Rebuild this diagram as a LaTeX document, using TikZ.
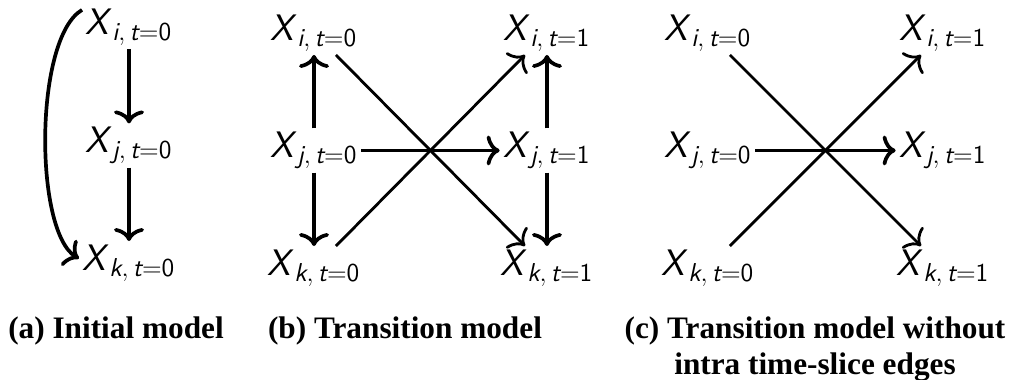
\documentclass[tikz,border=0pt]{standalone}
\usepackage{fix-cm}
\usepackage{amsmath}
\usepackage{fontspec}
\setmainfont{Liberation Serif}
\usetikzlibrary{arrows.meta,positioning}

\newcommand{\xvar}[2]{\textsl{X}$_{\textsl{#1},\,\textsl{t}=\textup{#2}}$}

\begin{document}
\begin{tikzpicture}[x=0.02cm, y=0.02cm, on grid,
      rvar/.style={font=\fontsize{21}{25}\selectfont\sffamily, inner sep=2pt},
      dep/.style={-{To[length=2.6mm,width=6mm]}, line width=2.1pt},
      cross/.style={-{To[length=2.6mm,width=6mm]}, line width=1.6pt},
      subcap/.style={font=\fontsize{17.8}{20.5}\selectfont\bfseries, inner sep=0pt, align=center},
    ]
    \useasboundingbox (0,0) rectangle (1015,-379);

    % (a) initial model
    \node[rvar] (ai) at (129,-27) {\xvar{i}{0}};
    \node[rvar, below=2.37cm of ai] (aj) {\xvar{j}{0}};
    \node[rvar, below=2.35cm of aj] (ak) {\xvar{k}{0}};

    \draw[dep] (ai) -- (aj);
    \draw[dep] (aj) -- (ak);
    \draw[dep] (ai.160) .. controls (34,-38) and (34,-232) .. (ak.175);

    % (b) transition model
    \node[rvar] (bi0) at (314,-33) {\xvar{i}{0}};
    \node[rvar, below=2.35cm of bi0] (bj0) {\xvar{j}{0}};
    \node[rvar, below=2.35cm of bj0] (bk0) {\xvar{k}{0}};
    \node[rvar, right=4.66cm of bi0] (bi1) {\xvar{i}{1}};
    \node[rvar, below=2.35cm of bi1] (bj1) {\xvar{j}{1}};
    \node[rvar, below=2.35cm of bj1] (bk1) {\xvar{k}{1}};

    \draw[dep] (bj0) -- (bi0);
    \draw[dep] (bj0) -- (bk0);
    \draw[dep] (bj1) -- (bi1);
    \draw[dep] (bj1) -- (bk1);
    \draw[dep] (bj0) -- (bj1);
    \draw[cross] (bi0.-45) -- (bk1.135);
    \draw[cross] (bk0.45) -- (bi1.-135);

    % (c) without intra time-slice edges
    \node[rvar] (ci0) at (708,-33) {\xvar{i}{0}};
    \node[rvar, below=2.35cm of ci0] (cj0) {\xvar{j}{0}};
    \node[rvar, below=2.35cm of cj0] (ck0) {\xvar{k}{0}};
    \node[rvar, right=4.7cm of ci0] (ci1) {\xvar{i}{1}};
    \node[rvar, below=2.35cm of ci1] (cj1) {\xvar{j}{1}};
    \node[rvar, below=2.35cm of cj1] (ck1) {\xvar{k}{1}};

    \draw[dep] (cj0) -- (cj1);
    \draw[cross] (ci0.-45) -- (ck1.135);
    \draw[cross] (ck0.45) -- (ci1.-135);

    % captions
    \node[subcap, anchor=base] (capa) at (116,-338) {(a) Initial model};
    \node[subcap, anchor=base] (capb) at (405,-338) {(b) Transition model};
    \node[subcap, anchor=north] (capc) at (815,-316)
      {(c) Transition model without\\intra time-slice edges};
  \end{tikzpicture}
\end{document}
